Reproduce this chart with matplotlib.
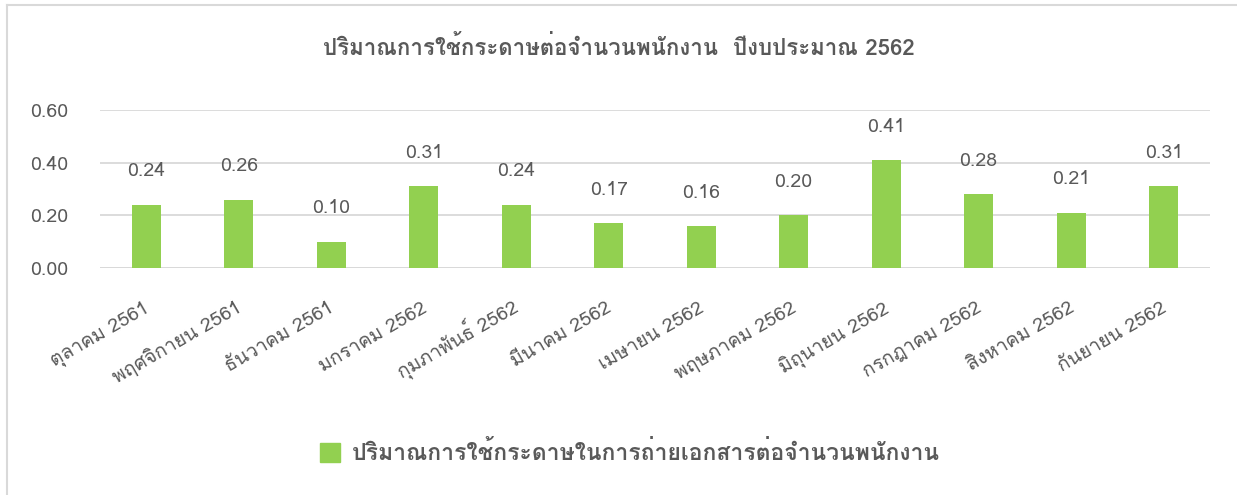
import matplotlib
matplotlib.use("Agg")
import matplotlib.pyplot as plt
import matplotlib.transforms as mtransforms
from matplotlib import font_manager
from matplotlib.ft2font import FT2Font
from matplotlib.patches import Patch
from matplotlib.lines import Line2D

# data
months = ["ตุลาคม 2561", "พฤศจิกายน 2561", "ธันวาคม 2561", "มกราคม 2562",
          "กุมภาพันธ์ 2562", "มีนาคม 2562", "เมษายน 2562", "พฤษภาคม 2562",
          "มิถุนายน 2562", "กรกฎาคม 2562", "สิงหาคม 2562", "กันยายน 2562"]
values = [0.24, 0.26, 0.10, 0.31, 0.24, 0.17, 0.16, 0.20, 0.41, 0.28, 0.21, 0.31]
yticks = [0.0, 0.2, 0.4, 0.6]
title = "ปริมาณการใช้กระดาษต่อจำนวนพนักงาน  ปีงบประมาณ 2562"
series_name = "ปริมาณการใช้กระดาษในการถ่ายเอกสารต่อจำนวนพนักงาน"


def thai_font():
    for f in font_manager.fontManager.ttflist:
        try:
            if 0x0E01 in FT2Font(f.fname).get_charmap():
                return f.name
        except Exception:
            pass
    return None


th = thai_font()
fams = [th, "DejaVu Sans"] if th else ["DejaVu Sans"]
plt.rcParams["font.family"] = fams

green = "#92D050"
txt = "#595959"
grid = "#D9D9D9"

fig = plt.figure(figsize=(12.37, 4.95), dpi=100)
ax = fig.add_axes([0.0808, 0.4586, 0.8973, 0.3192])

x = range(len(months))
bars = ax.bar(x, values, width=0.31, color=green, zorder=3)
for b, v in zip(bars, values):
    ax.annotate(f"{v:.2f}", (b.get_x() + b.get_width() / 2, v),
                xytext=(0, 24), textcoords="offset points",
                ha="center", va="center", fontsize=14, color=txt)

ax.set_ylim(0, 0.6)
ax.set_xlim(-0.5, len(months) - 0.5)
ax.set_yticks(yticks)
ax.set_yticklabels([f"{t:.2f}" for t in yticks], fontsize=14, color=txt)
ax.yaxis.grid(True, color=grid, lw=1.3, zorder=0)
ax.tick_params(axis="y", length=0, pad=23)
ax.tick_params(axis="x", length=0, pad=31)
ax.set_xticks(list(x))
ax.set_xticklabels(months, rotation=30, ha="right", va="baseline",
                   rotation_mode="anchor", fontsize=14, color=txt)
shift = mtransforms.ScaledTranslation(3 / 72, 0, fig.dpi_scale_trans)
for lab in ax.get_xticklabels():
    lab.set_transform(lab.get_transform() + shift)
for s in ax.spines.values():
    s.set_visible(False)
ax.axhline(0, color=grid, lw=1.3, zorder=2)

fig.text(0.5, 0.905, title, ha="center", va="center", fontsize=16,
         fontweight="bold", color=txt)

fig.legend(handles=[Patch(color=green, label=series_name)],
           loc="center", bbox_to_anchor=(0.509, 0.087), frameon=False,
           handlelength=0.9, handleheight=0.9, handletextpad=0.5,
           labelcolor=txt, prop={"weight": "bold", "size": 16.5})

# outer chart border
fig.add_artist(Line2D([0.006, 0.006], [0, 0.99], color=grid, lw=1.5,
                      transform=fig.transFigure))
fig.add_artist(Line2D([0.006, 1], [0.99, 0.99], color=grid, lw=1.5,
                      transform=fig.transFigure))

fig.savefig("out.png", dpi=100)
